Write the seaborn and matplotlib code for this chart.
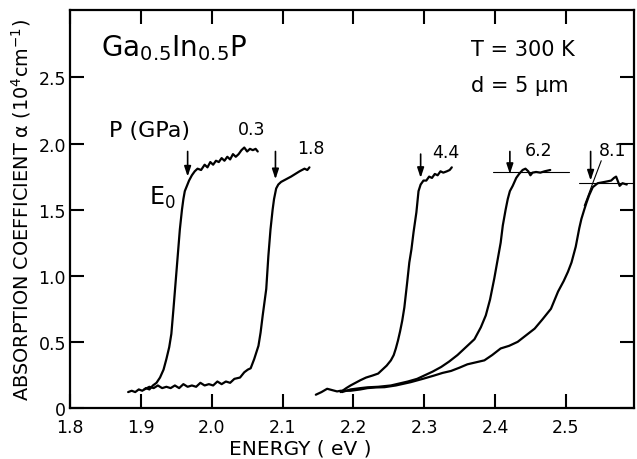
import numpy as np
import pandas as pd
import matplotlib
matplotlib.use("Agg")
import matplotlib.pyplot as plt
import seaborn as sns

# ---------------- data ----------------
pressures = ["0.3", "1.8", "4.4", "6.2", "8.1"]

x_03 = [1.882, 1.887, 1.892, 1.897, 1.902, 1.907, 1.912, 1.917, 1.922, 1.927, 1.932, 1.936,
        1.940, 1.943, 1.946, 1.949, 1.952, 1.955, 1.958, 1.960, 1.962, 1.965, 1.968, 1.972,
        1.976, 1.980, 1.985, 1.990, 1.994, 1.998, 2.002, 2.006, 2.010, 2.014, 2.018, 2.022,
        2.026, 2.030, 2.034, 2.038, 2.042, 2.046, 2.050, 2.054, 2.058, 2.062, 2.065]
y_03 = [0.12, 0.13, 0.12, 0.14, 0.13, 0.15, 0.14, 0.17, 0.19, 0.23, 0.29, 0.37,
        0.46, 0.56, 0.75, 0.95, 1.15, 1.35, 1.50, 1.58, 1.64, 1.68, 1.72, 1.76,
        1.79, 1.81, 1.80, 1.84, 1.82, 1.86, 1.84, 1.87, 1.86, 1.89, 1.87, 1.90,
        1.88, 1.92, 1.90, 1.92, 1.95, 1.97, 1.94, 1.96, 1.95, 1.96, 1.94]

x_18 = [1.905, 1.912, 1.918, 1.924, 1.930, 1.936, 1.942, 1.948, 1.954, 1.960, 1.966, 1.972,
        1.978, 1.984, 1.990, 1.996, 2.002, 2.008, 2.014, 2.020, 2.026, 2.032, 2.040, 2.046,
        2.051, 2.055, 2.060, 2.066, 2.069, 2.072, 2.077, 2.080, 2.083, 2.086, 2.088, 2.091,
        2.094, 2.098, 2.105, 2.112, 2.118, 2.124, 2.131, 2.135, 2.138]
y_18 = [0.14, 0.16, 0.15, 0.17, 0.15, 0.16, 0.15, 0.17, 0.15, 0.18, 0.16, 0.17,
        0.16, 0.19, 0.17, 0.18, 0.17, 0.20, 0.18, 0.20, 0.19, 0.22, 0.23, 0.27,
        0.29, 0.30, 0.37, 0.47, 0.57, 0.70, 0.90, 1.15, 1.35, 1.50, 1.58, 1.66,
        1.69, 1.71, 1.73, 1.75, 1.77, 1.79, 1.81, 1.80, 1.82]

x_44 = [2.182, 2.190, 2.196, 2.203, 2.210, 2.218, 2.227, 2.235, 2.241, 2.247, 2.253, 2.257,
        2.260, 2.263, 2.266, 2.269, 2.272, 2.276, 2.279, 2.282, 2.285, 2.289, 2.292, 2.295,
        2.299, 2.303, 2.307, 2.311, 2.315, 2.319, 2.323, 2.327, 2.332, 2.336, 2.339]
y_44 = [0.12, 0.15, 0.17, 0.19, 0.21, 0.23, 0.245, 0.26, 0.29, 0.32, 0.36, 0.40,
        0.45, 0.51, 0.58, 0.66, 0.76, 0.95, 1.10, 1.20, 1.33, 1.48, 1.64, 1.69,
        1.72, 1.72, 1.75, 1.74, 1.77, 1.76, 1.79, 1.78, 1.79, 1.80, 1.82]

x_62 = [2.184, 2.196, 2.210, 2.220, 2.235, 2.253, 2.265, 2.277, 2.290, 2.300, 2.312, 2.324,
        2.335, 2.347, 2.359, 2.371, 2.380, 2.387, 2.393, 2.399, 2.404, 2.408, 2.411, 2.415,
        2.418, 2.421, 2.425, 2.430, 2.434, 2.439, 2.443, 2.447, 2.450, 2.453, 2.458, 2.464,
        2.470, 2.478]
y_62 = [0.12, 0.14, 0.15, 0.156, 0.16, 0.17, 0.185, 0.20, 0.22, 0.245, 0.275, 0.31,
        0.35, 0.40, 0.46, 0.52, 0.61, 0.70, 0.82, 0.98, 1.13, 1.25, 1.38, 1.50,
        1.58, 1.64, 1.68, 1.74, 1.77, 1.80, 1.81, 1.79, 1.76, 1.78, 1.785, 1.78,
        1.79, 1.80]

x_81 = [2.147, 2.155, 2.163, 2.170, 2.177, 2.182, 2.196, 2.210, 2.220, 2.232, 2.244, 2.260,
        2.281, 2.298, 2.314, 2.326, 2.338, 2.350, 2.361, 2.373, 2.385, 2.396, 2.408, 2.420,
        2.432, 2.444, 2.456, 2.467, 2.479, 2.489, 2.497, 2.503, 2.508, 2.514, 2.519, 2.522,
        2.526, 2.529, 2.533, 2.538, 2.545, 2.555, 2.564, 2.568, 2.571, 2.576, 2.580, 2.586]
y_81 = [0.10, 0.12, 0.145, 0.135, 0.125, 0.13, 0.13, 0.14, 0.15, 0.155, 0.157, 0.17,
        0.195, 0.22, 0.245, 0.265, 0.28, 0.305, 0.33, 0.345, 0.36, 0.40, 0.45, 0.47,
        0.50, 0.55, 0.60, 0.67, 0.75, 0.88, 0.96, 1.03, 1.10, 1.22, 1.36, 1.43,
        1.50, 1.55, 1.61, 1.67, 1.70, 1.71, 1.72, 1.74, 1.75, 1.68, 1.70, 1.69]

# E0 arrows (x position, tail y, head y) and pressure labels (x, baseline y)
arrow_x = [1.966, 2.090, 2.295, 2.421, 2.535]
arrow_tail = [1.94, 1.94, 1.92, 1.94, 1.94]
arrow_head = [1.75, 1.73, 1.74, 1.77, 1.72]
label_x = [2.057, 2.140, 2.331, 2.461, 2.566]
label_y = [2.076, 1.93, 1.90, 1.91, 1.91]

xticks = [1.8, 1.9, 2.0, 2.1, 2.2, 2.3, 2.4, 2.5]
xticklabels = ["1.8", "1.9", "2.0", "2.1", "2.2", "2.3", "2.4", "2.5"]
yticks = [0, 0.5, 1.0, 1.5, 2.0, 2.5]
yticklabels = ["0", "0.5", "1.0", "1.5", "2.0", "2.5"]

curves = {"0.3": (x_03, y_03), "1.8": (x_18, y_18), "4.4": (x_44, y_44),
          "6.2": (x_62, y_62), "8.1": (x_81, y_81)}

# ---------------- plotting ----------------
sns.set_style("ticks")
plt.rcParams["font.family"] = ["DejaVu Sans"]
plt.rcParams["text.color"] = "black"
plt.rcParams["axes.labelcolor"] = "black"
plt.rcParams["xtick.color"] = "black"
plt.rcParams["ytick.color"] = "black"

fig = plt.figure(figsize=(6.37, 4.60), dpi=100)
ax = fig.add_axes([0.110, 0.111, 0.885, 0.865])

for p in pressures:
    xs, ys = curves[p]
    df = pd.DataFrame({"E": xs, "a": ys})
    sns.lineplot(data=df, x="E", y="a", sort=False, estimator=None,
                 color="black", linewidth=1.6, ax=ax)

# construction lines for 6.2 and 8.1
ax.plot([2.397, 2.505], [1.785, 1.785], color="black", lw=0.8)
ax.plot([2.518, 2.600], [1.705, 1.705], color="black", lw=0.8)
ax.plot([2.526, 2.550], [1.53, 1.87], color="black", lw=0.8)

for xa, yt, yh in zip(arrow_x, arrow_tail, arrow_head):
    ax.annotate("", xy=(xa, yh), xytext=(xa, yt),
                arrowprops=dict(arrowstyle="-|>,head_length=0.6,head_width=0.2",
                                color="black", lw=1.2, shrinkA=0, shrinkB=0))

for p, lx, ly in zip(pressures, label_x, label_y):
    ax.text(lx, ly, p, ha="center", va="baseline", fontsize=12.5)

ax.text(1.855, 2.06, "P (GPa)", ha="left", va="baseline", fontsize=16)
ax.text(1.911, 1.545, "E$_0$", ha="left", va="baseline", fontsize=17)
ax.text(1.8435, 2.667, "Ga$_{0.5}$In$_{0.5}$P", ha="left", va="baseline", fontsize=20)
ax.text(2.366, 2.667, "T = 300 K", ha="left", va="baseline", fontsize=15)
ax.text(2.366, 2.394, "d = 5 μm", ha="left", va="baseline", fontsize=15)

ax.set_xlim(1.8, 2.596)
ax.set_ylim(0, 3.01)
ax.set_xticks(xticks)
ax.set_xticklabels(xticklabels)
ax.set_yticks(yticks)
ax.set_yticklabels(yticklabels)

ax.tick_params(axis="both", direction="in", length=10, width=1.5,
               top=True, right=True, labelsize=12.5, color="black")
ax.tick_params(axis="x", pad=7)
ax.tick_params(axis="y", pad=3)
for s in ax.spines.values():
    s.set_visible(True)
    s.set_linewidth(1.6)
    s.set_color("black")

ax.set_xlabel("ENERGY ( eV )", fontsize=14.5)
ax.set_ylabel("ABSORPTION COEFFICIENT α (10$^4$cm$^{-1}$)", fontsize=13.9)
ax.xaxis.set_label_coords(0.408, -0.078)
ax.yaxis.set_label_coords(-0.066, 0.5)

fig.savefig("out.png", dpi=100, facecolor="white")
